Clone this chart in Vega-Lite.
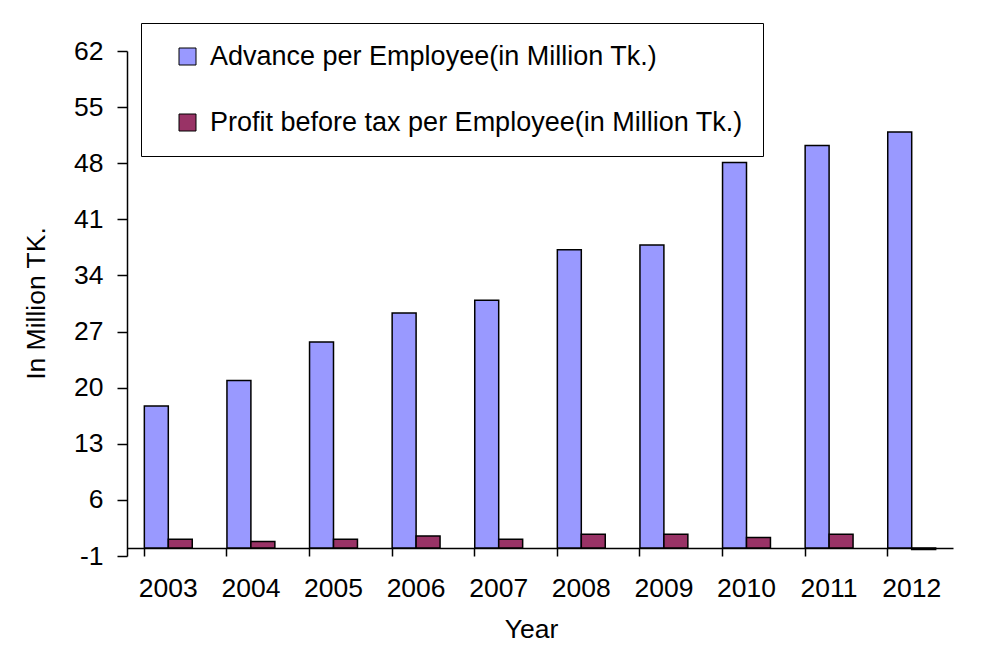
{
  "$schema": "https://vega.github.io/schema/vega-lite/v6.json",
  "autosize": "none",
  "padding": {"left": 127, "top": 51, "right": 39, "bottom": 99},
  "width": 826,
  "height": 505,
  "background": "white",
  "config": {
    "view": {"stroke": null},
    "font": "Liberation Sans",
    "axis": {"grid": false, "domainColor": "black", "tickColor": "black", "labelColor": "black", "titleColor": "black", "domainWidth": 1.5, "tickWidth": 1.5, "labelFont": "Liberation Sans", "titleFont": "Liberation Sans", "titleFontWeight": "normal"}
  },
  "data": {
    "values": [
      {"year": "2003", "series": "Advance per Employee(in Million Tk.)", "value": 17.7},
      {"year": "2004", "series": "Advance per Employee(in Million Tk.)", "value": 20.9},
      {"year": "2005", "series": "Advance per Employee(in Million Tk.)", "value": 25.7},
      {"year": "2006", "series": "Advance per Employee(in Million Tk.)", "value": 29.3},
      {"year": "2007", "series": "Advance per Employee(in Million Tk.)", "value": 30.9},
      {"year": "2008", "series": "Advance per Employee(in Million Tk.)", "value": 37.2},
      {"year": "2009", "series": "Advance per Employee(in Million Tk.)", "value": 37.8},
      {"year": "2010", "series": "Advance per Employee(in Million Tk.)", "value": 48.1},
      {"year": "2011", "series": "Advance per Employee(in Million Tk.)", "value": 50.2},
      {"year": "2012", "series": "Advance per Employee(in Million Tk.)", "value": 51.9},
      {"year": "2003", "series": "Profit before tax per Employee(in Million Tk.)", "value": 1.1},
      {"year": "2004", "series": "Profit before tax per Employee(in Million Tk.)", "value": 0.8},
      {"year": "2005", "series": "Profit before tax per Employee(in Million Tk.)", "value": 1.1},
      {"year": "2006", "series": "Profit before tax per Employee(in Million Tk.)", "value": 1.5},
      {"year": "2007", "series": "Profit before tax per Employee(in Million Tk.)", "value": 1.1},
      {"year": "2008", "series": "Profit before tax per Employee(in Million Tk.)", "value": 1.7},
      {"year": "2009", "series": "Profit before tax per Employee(in Million Tk.)", "value": 1.7},
      {"year": "2010", "series": "Profit before tax per Employee(in Million Tk.)", "value": 1.3},
      {"year": "2011", "series": "Profit before tax per Employee(in Million Tk.)", "value": 1.7},
      {"year": "2012", "series": "Profit before tax per Employee(in Million Tk.)", "value": -0.2}
    ]
  },
  "mark": {"type": "bar", "stroke": "black", "strokeWidth": 1.5, "opacity": 1},
  "encoding": {
    "x": {
      "field": "year", "type": "nominal",
      "scale": {"paddingInner": 0.42, "paddingOuter": 0.21},
      "axis": {
        "offset": -8, "tickSize": 8, "bandPosition": 0, "labelAngle": 0,
        "labelFontSize": 26.5, "labelBaseline": "alphabetic", "labelPadding": 40,
        "title": "Year", "titleFontSize": 26.5, "titleX": 404, "titleY": 89.5, "titleBaseline": "alphabetic", "titleAlign": "center"
      }
    },
    "xOffset": {
      "field": "series", "type": "nominal",
      "sort": ["Advance per Employee(in Million Tk.)", "Profit before tax per Employee(in Million Tk.)"],
      "scale": {"paddingInner": 0, "paddingOuter": 0}
    },
    "y": {
      "field": "value", "type": "quantitative",
      "scale": {"domain": [-1, 62], "nice": false, "zero": false},
      "axis": {
        "values": [-1, 6, 13, 20, 27, 34, 41, 48, 55, 62],
        "labelExpr": "'' + datum.value",
        "tickSize": 10, "labelPadding": 14, "labelFontSize": 26.5,
        "title": "In Million TK.", "titleFontSize": 26.5, "titleX": -91, "titleY": 252, "titleAngle": -90, "titleAlign": "center", "titleBaseline": "middle"
      }
    },
    "color": {
      "field": "series", "type": "nominal",
      "scale": {"domain": ["Advance per Employee(in Million Tk.)", "Profit before tax per Employee(in Million Tk.)"], "range": ["#9999FF", "#993366"]},
      "legend": {
        "title": null, "orient": "none", "legendX": 14, "legendY": -28, "direction": "vertical",
        "strokeColor": "black", "fillColor": "white", "padding": 20,
        "symbolType": "square", "symbolSize": 289, "symbolStrokeColor": "black", "symbolStrokeWidth": 1, "symbolOpacity": 1, "symbolOffset": 13,
        "labelFontSize": 27, "labelFont": "Liberation Sans", "labelColor": "black", "labelLimit": 0, "rowPadding": 38, "labelOffset": 9
      }
    }
  }
}
